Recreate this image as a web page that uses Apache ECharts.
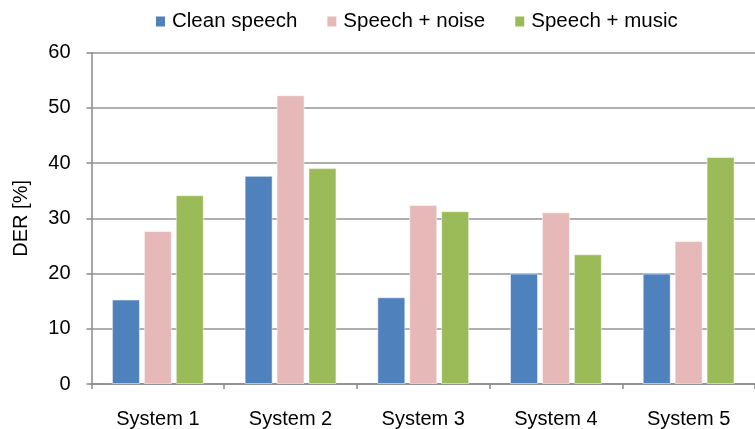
<!DOCTYPE html>
<html>
<head>
<meta charset="utf-8">
<script src="https://cdn.jsdelivr.net/npm/echarts@6/dist/echarts.min.js"></script>
<style>html,body{margin:0;padding:0;background:#fff;}#c{width:755px;height:429px;}</style>
</head>
<body>
<div id="c"></div>
<script>
const categories = ['System 1', 'System 2', 'System 3', 'System 4', 'System 5'];
const cleanSpeech = [15.3, 37.7, 15.7, 20.0, 20.0];
const speechNoise = [27.7, 52.3, 32.4, 31.1, 25.9];
const speechMusic = [34.2, 39.1, 31.3, 23.5, 41.1];
const yTicks = [0, 10, 20, 30, 40, 50, 60];

const font = 'Liberation Sans, Arial, Helvetica, sans-serif';
const chart = echarts.init(document.getElementById('c'), null, {renderer: 'canvas'});
const mk = (name, data, color) => ({
  name, type: 'bar', data, barWidth: 28, barGap: '14%',
  itemStyle: {color, borderColor: 'rgba(255,255,255,0.5)', borderWidth: 1},
  animation: false
});
chart.setOption({
  animation: false,
  textStyle: {fontFamily: font},
  legend: {
    top: 6, left: 151, itemWidth: 9, itemHeight: 10, itemGap: 30, icon: 'rect',
    itemStyle: {borderWidth: 0},
    textStyle: {fontSize: 20.5, color: '#000', fontFamily: font, padding: [0, 0, 0, 2]},
    data: ['Clean speech', 'Speech + noise', 'Speech + music']
  },
  grid: {left: 91.5, right: -9.4, top: 52.7, bottom: 44.7, containLabel: false},
  xAxis: {
    type: 'category', data: categories,
    axisLine: {lineStyle: {color: '#8a8a8a', width: 1.5}},
    axisTick: {show: true, length: 5, lineStyle: {color: '#8a8a8a', width: 1.5}},
    axisLabel: {fontSize: 20, color: '#000', margin: 25, fontFamily: font}
  },
  yAxis: {
    type: 'value', min: yTicks[0], max: yTicks[yTicks.length - 1], interval: 10,
    name: 'DER [%]', nameLocation: 'middle', nameGap: 60, nameRotate: 90,
    nameTextStyle: {fontSize: 20, color: '#000', fontFamily: font},
    axisLine: {show: true, lineStyle: {color: '#8a8a8a', width: 1.5}},
    axisTick: {show: true, length: 5, lineStyle: {color: '#8a8a8a', width: 1.5}},
    axisLabel: {fontSize: 20, color: '#000', margin: 21, fontFamily: font},
    splitLine: {lineStyle: {color: '#959595', width: 1.5}}
  },
  series: [
    mk('Clean speech', cleanSpeech, '#4F81BD'),
    mk('Speech + noise', speechNoise, '#E6B9B8'),
    mk('Speech + music', speechMusic, '#9BBB59')
  ]
});
</script>
</body>
</html>
